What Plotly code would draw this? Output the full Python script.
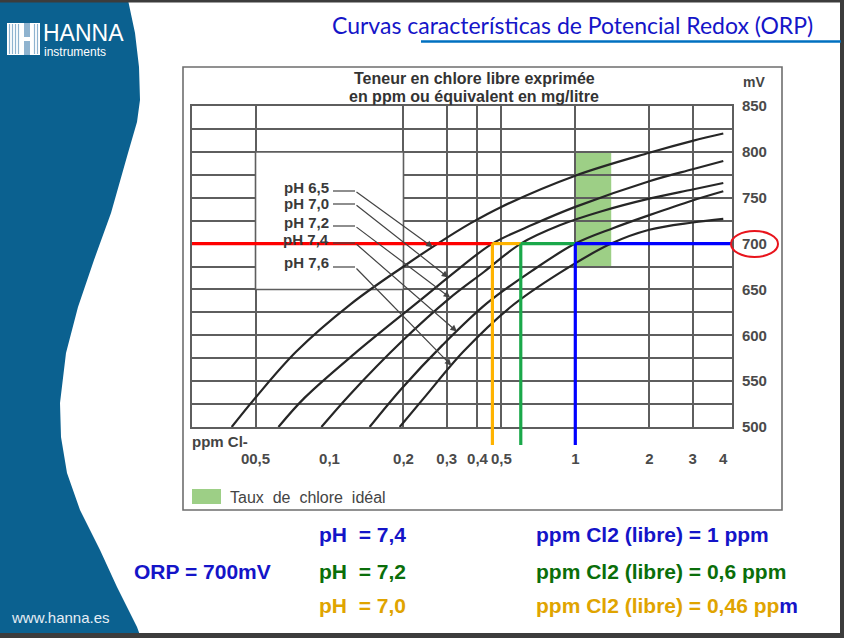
import math
import plotly.graph_objects as go

W, H = 844, 638
PL, PR, PT, PB = 192, 732, 106, 427   # plot area in pixels

# ---------------- data ----------------
ph_names = ["pH 6,5", "pH 7,0", "pH 7,2", "pH 7,4", "pH 7,6"]

ph65_ppm = [0.040, 0.050, 0.0731, 0.122, 0.200, 0.2756, 0.374, 0.50, 1.0, 2.0, 3.0, 4.0]
ph65_mv = [500, 532, 582, 634, 675, 700, 722, 740, 774, 799, 812, 820]

ph70_ppm = [0.062, 0.0793, 0.1265, 0.2308, 0.3376, 0.46, 0.676, 1.0, 2.0, 3.0, 4.0]
ph70_mv = [500, 532, 580, 637, 673, 700, 721, 740, 768, 781, 790]

ph72_ppm = [0.0927, 0.1207, 0.198, 0.3067, 0.4246, 0.60, 0.864, 1.27, 2.0, 3.0, 4.0]
ph72_mv = [500, 535, 594, 640, 669, 700, 720, 735, 749, 759, 766]

ph74_ppm = [0.1456, 0.1967, 0.2875, 0.4374, 0.6636, 1.0, 1.431, 2.0, 3.0, 4.0]
ph74_mv = [500, 542, 589, 635, 670, 700, 717, 731, 747, 757]

ph76_ppm = [0.193, 0.2429, 0.3498, 0.5406, 0.864, 1.40, 2.0, 3.0, 4.0]
ph76_mv = [500, 532, 582, 630, 668, 700, 715, 723, 727]

curves_ppm = [ph65_ppm, ph70_ppm, ph72_ppm, ph74_ppm, ph76_ppm]
curves_mv = [ph65_mv, ph70_mv, ph72_mv, ph74_mv, ph76_mv]

# arrow tips of the pH labels (ppm, mV) - on each curve
tip_ppm = [0.263, 0.3044, 0.310, 0.330, 0.3134]
tip_mv = [696, 663, 641, 604, 567]

x_tickvals = [0.05, 0.1, 0.2, 0.3, 0.4, 0.5, 1, 2, 3, 4]
x_ticktext = ["00,5", "0,1", "0,2", "0,3", "0,4", "0,5", "1", "2", "3", "4"]
x_gridvals = [0.05, 0.2, 0.3, 0.4, 0.5, 1, 2, 3]
y_tickvals = [500, 550, 600, 650, 700, 750, 800, 850]
y_ticktext = ["500", "550", "600", "650", "700", "750", "800", "850"]

orp_target = 700
ideal_ppm = [1.0, 1.4]
ideal_mv = [675, 800]
blank_ppm = [0.05, 0.2]
blank_mv = [650, 800]

result_ph = ["7,4", "7,2", "7,0"]
result_ppm_txt = ["1", "0,6", "0,46"]
result_ppm = [1.0, 0.6, 0.46]
result_text_colors = ["#1414c8", "#0a6e0a", "#e0a400"]
result_line_colors = ["#0000ff", "#1aa84a", "#ffb300"]

# ---------------- helpers ----------------
XR = [-1.5594, 0.6375]
YR = [500, 850]


def pxx(p):
    return (p - PL) / (PR - PL)


def pxy(p):
    return (PB - p) / (PB - PT)


def ppm_at_px(p):
    return 10 ** (XR[0] + (p - PL) / (PR - PL) * (XR[1] - XR[0]))


def mv_at_px(p):
    return YR[1] - (p - PT) / (PB - PT) * (YR[1] - YR[0])


def ypaper_of_mv(v):
    return (v - YR[0]) / (YR[1] - YR[0])


fig = go.Figure()

GRID = "#5e5e5e"
CURVE = "#262626"
TXT = "#3a3a3a"
FONT = "Liberation Sans, Arial"

for name, xs, ys in zip(ph_names, curves_ppm, curves_mv):
    fig.add_trace(go.Scatter(x=xs, y=ys, mode="lines", name=name,
                             line=dict(color=CURVE, width=2.2, shape="spline", smoothing=1.0),
                             showlegend=False, hoverinfo="skip"))

# reference lines at ORP 700 mV
x_left = 10 ** XR[0]
x_right = 10 ** XR[1]
seg_bounds = [x_left] + sorted(result_ppm) + [x_right]
seg_colors = ["#ff0000"] + [result_line_colors[2], result_line_colors[1], result_line_colors[0]]
for i, col in enumerate(seg_colors):
    fig.add_trace(go.Scatter(x=[seg_bounds[i], seg_bounds[i + 1]], y=[orp_target, orp_target],
                             mode="lines", line=dict(color=col, width=3.2),
                             showlegend=False, hoverinfo="skip"))

shapes = []
annotations = []

# slide background pieces
blue_edge = [(128, 0), (135, 33), (139, 67), (140, 100), (137, 122), (128, 153), (111, 213),
             (94, 260), (78, 307), (66, 353), (60, 403), (61, 437), (67, 473), (80, 510),
             (100, 550), (117, 587), (137, 627), (141, 638)]
path = "M {} {} ".format(pxx(0), pxy(0))
for (a, b) in blue_edge:
    path += "L {} {} ".format(pxx(a), pxy(b))
path += "L {} {} Z".format(pxx(0), pxy(638))
shapes.append(dict(type="path", xref="paper", yref="paper", path=path,
                   fillcolor="#0b6190", line=dict(width=0), layer="below"))

# dark borders of the screenshot
for (x0, y0, x1, y1) in [(0, 0, 844, 2.5), (0, 633, 844, 638), (840, 0, 844, 638)]:
    shapes.append(dict(type="rect", xref="paper", yref="paper", x0=pxx(x0), x1=pxx(x1),
                       y0=pxy(y1), y1=pxy(y0), fillcolor="#3c3c3c", line=dict(width=0), layer="above"))

# title underline
shapes.append(dict(type="line", xref="paper", yref="paper", x0=pxx(421), x1=pxx(841),
                   y0=pxy(41.5), y1=pxy(41.5), line=dict(color="#0070c0", width=2.5)))

# logo icon
shapes.append(dict(type="rect", xref="paper", yref="paper", x0=pxx(7), x1=pxx(40),
                   y0=pxy(55), y1=pxy(23), fillcolor="#ffffff", line=dict(width=0)))
for xs in [9.5, 12.5, 15.5, 18.5, 34.5, 37.5]:
    shapes.append(dict(type="line", xref="paper", yref="paper", x0=pxx(xs), x1=pxx(xs),
                       y0=pxy(54), y1=pxy(24), line=dict(color="#8fb3cf", width=1.2)))
shapes.append(dict(type="rect", xref="paper", yref="paper", x0=pxx(24), x1=pxx(30),
                   y0=pxy(55), y1=pxy(41), fillcolor="#8fb3cf", line=dict(width=0)))
shapes.append(dict(type="rect", xref="paper", yref="paper", x0=pxx(24), x1=pxx(30),
                   y0=pxy(37), y1=pxy(23), fillcolor="#8fb3cf", line=dict(width=0)))

# chart frame
shapes.append(dict(type="rect", xref="paper", yref="paper", x0=pxx(183), x1=pxx(782),
                   y0=pxy(510), y1=pxy(67), fillcolor="rgba(0,0,0,0)",
                   line=dict(color="#6e6e6e", width=1.6), layer="below"))

# ideal chlorine zone
shapes.append(dict(type="rect", xref="x", yref="y", x0=ideal_ppm[0], x1=ideal_ppm[1],
                   y0=ideal_mv[0], y1=ideal_mv[1], fillcolor="#9dcf86", line=dict(width=0),
                   layer="below"))
# blank label box (no horizontal grid)
shapes.append(dict(type="rect", xref="x", yref="y", x0=blank_ppm[0], x1=blank_ppm[1],
                   y0=blank_mv[0], y1=blank_mv[1], fillcolor="#ffffff",
                   line=dict(color=GRID, width=1.6), layer="between"))

# vertical result lines reaching below the axis
for ppm, col in zip(result_ppm, result_line_colors):
    shapes.append(dict(type="line", xref="x", yref="paper", x0=ppm, x1=ppm,
                       y0=pxy(445), y1=ypaper_of_mv(orp_target),
                       line=dict(color=col, width=3.2), layer="above"))

# legend swatch
shapes.append(dict(type="rect", xref="paper", yref="paper", x0=pxx(192), x1=pxx(221),
                   y0=pxy(504), y1=pxy(489), fillcolor="#9dcf86", line=dict(width=0)))

# red ellipse around 700
shapes.append(dict(type="circle", xref="paper", yref="paper", x0=pxx(731), x1=pxx(778),
                   y0=pxy(257), y1=pxy(231), line=dict(color="#e8141c", width=2)))

# pH labels + leader lines
label_y = [187, 203, 222, 239, 262]
leader_y = [191, 204, 226, 243, 267]
for name, ly, ldy, tp, tm in zip(ph_names, label_y, leader_y, tip_ppm, tip_mv):
    annotations.append(dict(xref="paper", yref="paper", x=pxx(331), y=pxy(ly), text="<b>" + name + "</b>",
                            showarrow=False, xanchor="right", yanchor="middle",
                            font=dict(family=FONT, size=15, color=TXT)))
    shapes.append(dict(type="line", xref="paper", yref="paper", x0=pxx(333), x1=pxx(355),
                       y0=pxy(ldy), y1=pxy(ldy), line=dict(color="#444", width=1.2)))
    annotations.append(dict(xref="x", yref="y", x=math.log10(tp), y=tm, text="",
                            axref="x", ayref="y", ax=math.log10(ppm_at_px(355)), ay=mv_at_px(ldy),
                            showarrow=True, arrowhead=2, arrowsize=1.1, arrowwidth=1.2,
                            arrowcolor="#444", standoff=0, startstandoff=0))

# chart texts
for txt, yy in [("Teneur en chlore libre exprimée", 78), ("en ppm ou équivalent en mg/litre", 96)]:
    annotations.append(dict(xref="paper", yref="paper", x=pxx(474), y=pxy(yy),
                            text="<b>" + txt + "</b>",
                            showarrow=False, xanchor="center", yanchor="middle",
                            font=dict(family=FONT, size=16, color="#333")))
annotations.append(dict(xref="paper", yref="paper", x=pxx(741), y=pxy(82), text="<b>mV</b>",
                        showarrow=False, xanchor="left", yanchor="middle",
                        font=dict(family=FONT, size=14, color="#444")))
annotations.append(dict(xref="paper", yref="paper", x=pxx(190), y=pxy(441), text="<b>ppm Cl-</b>",
                        showarrow=False, xanchor="left", yanchor="middle",
                        font=dict(family=FONT, size=15, color="#444")))
annotations.append(dict(xref="paper", yref="paper", x=pxx(228), y=pxy(497),
                        text="Taux\u00a0 de\u00a0 chlore\u00a0 idéal",
                        showarrow=False, xanchor="left", yanchor="middle",
                        font=dict(family=FONT, size=16, color="#444")))

# slide texts
annotations.append(dict(xref="paper", yref="paper", x=pxx(330), y=pxy(25),
                        text="Curvas características de Potencial Redox (ORP)",
                        showarrow=False, xanchor="left", yanchor="middle",
                        font=dict(family="Lato, Open Sans", size=23, color="#1515c8")))
annotations.append(dict(xref="paper", yref="paper", x=pxx(41), y=pxy(33), text="HANNA",
                        showarrow=False, xanchor="left", yanchor="middle",
                        font=dict(family=FONT, size=23, color="#ffffff")))
annotations.append(dict(xref="paper", yref="paper", x=pxx(42), y=pxy(52),
                        text="instruments",
                        showarrow=False, xanchor="left", yanchor="middle",
                        font=dict(family=FONT, size=12, color="#ffffff")))
annotations.append(dict(xref="paper", yref="paper", x=pxx(9), y=pxy(617), text="www.hanna.es",
                        showarrow=False, xanchor="left", yanchor="middle",
                        font=dict(family=FONT, size=15, color="#e6eef5")))

row_y = [534, 571, 605]
for i, (ph, ptxt, col, ry) in enumerate(zip(result_ph, result_ppm_txt, result_text_colors, row_y)):
    annotations.append(dict(xref="paper", yref="paper", x=pxx(317), y=pxy(ry),
                            text="<b>pH\u00a0 = " + ph + "</b>", showarrow=False,
                            xanchor="left", yanchor="middle",
                            font=dict(family=FONT, size=21, color=col)))
    if i == 2:
        t = "<b>ppm Cl2 (libre) = " + ptxt + " pp<span style='color:#1414c8'>m</span></b>"
    else:
        t = "<b>ppm Cl2 (libre) = " + ptxt + " ppm</b>"
    annotations.append(dict(xref="paper", yref="paper", x=pxx(534), y=pxy(ry), text=t,
                            showarrow=False, xanchor="left", yanchor="middle",
                            font=dict(family=FONT, size=21, color=col)))
annotations.append(dict(xref="paper", yref="paper", x=pxx(132), y=pxy(571),
                        text="<b>ORP = " + str(orp_target) + "mV</b>", showarrow=False,
                        xanchor="left", yanchor="middle",
                        font=dict(family=FONT, size=21, color="#1414c8")))

fig.update_layout(
    width=W, height=H, autosize=False,
    margin=dict(l=PL, r=W - PR, t=PT, b=H - PB, pad=0, autoexpand=False),
    paper_bgcolor="#ffffff", plot_bgcolor="#ffffff",
    showlegend=False,
    shapes=shapes, annotations=annotations,
    xaxis=dict(type="log", range=XR, tickmode="array", tickvals=x_tickvals, ticktext=x_ticktext,
               showgrid=False, zeroline=False, ticks="", ticklabelstandoff=17,
               showline=True, mirror=True, linecolor=GRID, linewidth=1.8,
               tickfont=dict(family=FONT, size=15, color="#4a4a4a", weight="bold"),
               minor=dict(tickmode="array", tickvals=x_gridvals, showgrid=True,
                          gridcolor=GRID, gridwidth=1.6, ticks=""),
               automargin=False, fixedrange=True),
    yaxis=dict(range=YR, side="right", tickmode="array", tickvals=y_tickvals, ticktext=y_ticktext,
               showgrid=True, gridcolor=GRID, gridwidth=1.6, zeroline=False, ticks="",
               ticklabelstandoff=5,
               showline=True, mirror=True, linecolor=GRID, linewidth=1.8,
               tickfont=dict(family=FONT, size=15, color="#4a4a4a", weight="bold"),
               minor=dict(dtick=25, tick0=500, showgrid=True, gridcolor=GRID, gridwidth=1.6, ticks=""),
               automargin=False, fixedrange=True),
)

fig.write_html("out.html", config={"displayModeBar": False},
               post_script="document.body.style.margin='0px';document.body.style.overflow='hidden';")
